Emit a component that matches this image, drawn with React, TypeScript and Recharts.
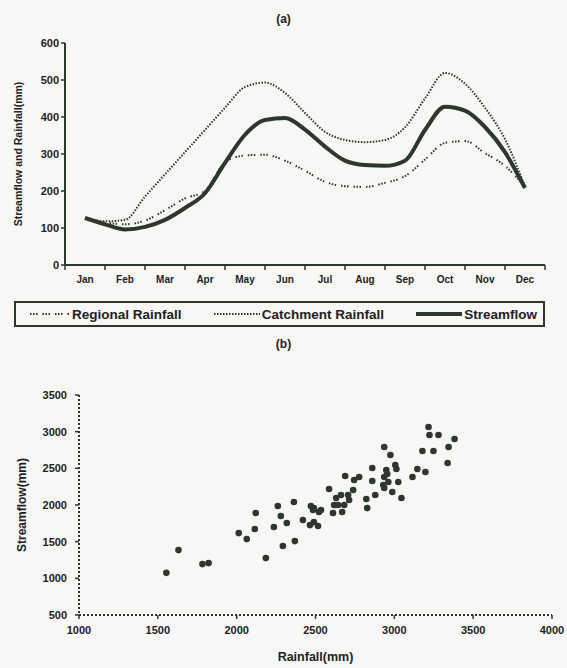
import React from 'react';
import { LineChart, Line, XAxis, YAxis, Legend, ScatterChart, Scatter } from 'recharts';

const monthLabels = ['Jan', 'Feb', 'Mar', 'Apr', 'May', 'Jun', 'Jul', 'Aug', 'Sep', 'Oct', 'Nov', 'Dec'];
const monthPos = [0, 0.5, 1, 1.5, 2, 2.5, 3, 3.5, 4, 4.5, 5, 5.5, 6, 6.5, 7, 7.5, 8, 8.5, 9, 9.5, 10, 10.5, 11];
const regionalRainfall = [125, 115, 110, 120, 148, 180, 200, 278, 296, 298, 282, 255, 225, 213, 211, 222, 240, 285, 330, 335, 302, 268, 210];
const catchmentRainfall = [127, 118, 122, 185, 245, 305, 365, 425, 481, 493, 465, 411, 360, 338, 332, 338, 372, 450, 519, 490, 425, 340, 212];
const streamflow = [127, 110, 96, 103, 122, 154, 194, 276, 352, 392, 397, 366, 320, 282, 270, 268, 282, 365, 428, 417, 373, 305, 208];
const seriesNames = ['Regional Rainfall', 'Catchment Rainfall', 'Streamflow'];
const yTicksA = [0, 100, 200, 300, 400, 500, 600];
const xTickBounds = [-0.5, 0.5, 1.5, 2.5, 3.5, 4.5, 5.5, 6.5, 7.5, 8.5, 9.5, 10.5, 11.5];

const rainfallX = [1554, 1631, 1783, 1822, 2013, 2064, 2121, 2115, 2185, 2236, 2261, 2280, 2293, 2318, 2363, 2369, 2420, 2471, 2484, 2490, 2522, 2465, 2490, 2516, 2586, 2611, 2618, 2631, 2643, 2662, 2669, 2682, 2707, 2713, 2688, 2739, 2745, 2777, 2822, 2828, 2860, 2860, 2879, 2930, 2936, 2936, 2936, 2949, 2955, 2962, 2975, 2987, 3006, 3013, 3025, 3045, 3115, 3146, 3178, 3197, 3217, 3223, 3248, 3280, 3338, 3344, 3382, 2535];
const streamflowY = [1075, 1385, 1194, 1208, 1617, 1535, 1890, 1672, 1276, 1699, 1986, 1849, 1440, 1754, 2040, 1508, 1795, 1986, 1931, 1958, 1904, 1726, 1767, 1713, 2218, 1890, 1999, 2095, 1999, 2136, 1904, 1999, 2136, 2068, 2395, 2204, 2340, 2381, 2081, 1958, 2504, 2327, 2136, 2272, 2231, 2381, 2791, 2477, 2422, 2313, 2681, 2177, 2545, 2490, 2313, 2095, 2381, 2490, 2736, 2449, 3063, 2954, 2736, 2954, 2572, 2791, 2900, 1931];
const xTicksB = [1000, 1500, 2000, 2500, 3000, 3500, 4000];
const yTicksB = [500, 1000, 1500, 2000, 2500, 3000, 3500];

const INK = '#2e372e';
const TXT = '#1e221e';
const FONT = '"Liberation Sans", Arial, Helvetica, sans-serif';

const lineData = monthPos.map((m, i) => ({
  m,
  regional: regionalRainfall[i],
  catchment: catchmentRainfall[i],
  streamflow: streamflow[i],
}));
const scatterData = rainfallX.map((x, i) => ({ x, y: streamflowY[i] }));

const MonthTick = (props: any) => {
  const { x, y, payload, width } = props;
  const idx = Math.round(payload.value + 0.5);
  const label = monthLabels[idx];
  if (!label) return <g />;
  const half = width / 24;
  return (
    <text x={x + half} y={y + 4} dy="0.71em" textAnchor="middle" fontFamily={FONT} fontWeight={700} fontSize={10} fill={TXT}>
      {label}
    </text>
  );
};

const LegendContent = (props: any) => {
  const payload = [...(props.payload || [])].sort(
    (a: any, b: any) => seriesNames.indexOf(a.value) - seriesNames.indexOf(b.value)
  );
  return (
    <div
      style={{
        boxSizing: 'border-box',
        width: 531,
        height: 26,
        border: `2px solid ${INK}`,
        display: 'flex',
        alignItems: 'center',
        justifyContent: 'space-between',
        padding: '0 6px 0 14px',
        fontFamily: FONT,
        fontWeight: 700,
        fontSize: 13.5,
        color: TXT,
      }}
    >
      {payload.map((entry: any, i: number) => {
        const p = entry.payload || {};
        const w = i === 0 ? 40 : 46;
        return (
          <div key={i} style={{ display: 'flex', alignItems: 'center' }}>
            <svg width={w} height={10} style={{ marginRight: 2 }}>
              <line x1={0} y1={5} x2={w} y2={5} stroke={INK} strokeWidth={p.strokeWidth || 2} strokeDasharray={p.strokeDasharray} />
            </svg>
            <span>{entry.value}</span>
          </div>
        );
      })}
    </div>
  );
};

const yLabelA = (props: any) => {
  const vb = props.viewBox || { x: 0, y: 43, width: 65, height: 222 };
  const cx = 18;
  const cy = vb.y + vb.height / 2;
  return (
    <text x={cx} y={cy} transform={`rotate(-90 ${cx} ${cy})`} textAnchor="middle" dominantBaseline="central" fontFamily={FONT} fontWeight={700} fontSize={10.5} fill={TXT}>
      Streamflow and Rainfall(mm)
    </text>
  );
};

const yLabelB = (props: any) => {
  const vb = props.viewBox || { x: 0, y: 35, width: 79, height: 220 };
  const cx = 22;
  const cy = vb.y + vb.height / 2;
  return (
    <text x={cx} y={cy} transform={`rotate(-90 ${cx} ${cy})`} textAnchor="middle" dominantBaseline="central" fontFamily={FONT} fontWeight={700} fontSize={12} fill={TXT}>
      Streamflow(mm)
    </text>
  );
};

const xLabelB = (props: any) => {
  const vb = props.viewBox || { x: 79, y: 255, width: 473, height: 38 };
  return (
    <text x={vb.x + vb.width / 2} y={vb.y + 42} textAnchor="middle" dominantBaseline="central" fontFamily={FONT} fontWeight={700} fontSize={12.5} fill={TXT}>
      Rainfall(mm)
    </text>
  );
};

const tickStyle = { fontFamily: FONT, fontWeight: 700, fontSize: 11, fill: TXT };

const Dot = (props: any) => <circle cx={props.cx} cy={props.cy} r={3.3} fill={INK} />;

export default function App() {
  return (
    <div style={{ position: 'absolute', left: 0, top: 0, width: 567, height: 668, background: '#f7f7f5', overflow: 'hidden' }}>
      <div style={{ position: 'absolute', top: 12, left: 0, width: 567, textAlign: 'center', fontFamily: FONT, fontWeight: 700, fontSize: 12, color: TXT }}>(a)</div>
      <div style={{ position: 'absolute', top: 0, left: 0 }}>
        <LineChart width={567} height={340} data={lineData} margin={{ top: 43, right: 22, bottom: 45, left: 0 }}>
          <XAxis
            xAxisId="main"
            dataKey="m"
            type="number"
            domain={[-0.5, 11.5]}
            ticks={xTickBounds}
            interval={0}
            allowDataOverflow
            height={30}
            tickSize={5}
            axisLine={{ stroke: INK, strokeWidth: 2 }}
            tickLine={{ stroke: INK, strokeWidth: 1.5 }}
            tick={(p: any) => <MonthTick {...p} />}
          />
          <XAxis xAxisId="top" orientation="top" type="number" domain={[-0.5, 11.5]} height={0} tick={false} tickLine={false} axisLine={{ stroke: INK, strokeWidth: 3 }} />
          <YAxis
            yAxisId="left"
            type="number"
            domain={[0, 600]}
            ticks={yTicksA}
            interval={0}
            width={65}
            tickSize={4}
            axisLine={{ stroke: INK, strokeWidth: 2 }}
            tickLine={{ stroke: INK, strokeWidth: 1.5 }}
            tick={tickStyle}
            label={{ content: yLabelA }}
          />
          <YAxis yAxisId="right" orientation="right" type="number" domain={[0, 600]} width={0} tick={false} tickLine={false} axisLine={{ stroke: INK, strokeWidth: 2 }} />
          <Line xAxisId="main" yAxisId="left" type="monotone" dataKey="regional" name="Regional Rainfall" stroke={INK} strokeWidth={2} strokeDasharray="1.5 1.5 1.5 1.5 1.5 5" dot={false} isAnimationActive={false} />
          <Line xAxisId="main" yAxisId="left" type="monotone" dataKey="catchment" name="Catchment Rainfall" stroke={INK} strokeWidth={2} strokeDasharray="1.5 1.5" dot={false} isAnimationActive={false} />
          <Line xAxisId="main" yAxisId="left" type="monotone" dataKey="streamflow" name="Streamflow" stroke={INK} strokeWidth={4} dot={false} isAnimationActive={false} />
          <Legend layout="horizontal" verticalAlign="middle" align="center" wrapperStyle={{ top: 301, left: 14, width: 531, height: 26 }} content={(p: any) => <LegendContent {...p} />} />
        </LineChart>
      </div>
      <div style={{ position: 'absolute', top: 337, left: 0, width: 567, textAlign: 'center', fontFamily: FONT, fontWeight: 700, fontSize: 12, color: TXT }}>(b)</div>
      <div style={{ position: 'absolute', top: 360, left: 0 }}>
        <ScatterChart width={567} height={308} margin={{ top: 35, right: 15, bottom: 15, left: 0 }}>
          <XAxis
            dataKey="x"
            type="number"
            domain={[1000, 4000]}
            ticks={xTicksB}
            interval={0}
            height={38}
            tickSize={4}
            tickMargin={7}
            axisLine={{ stroke: INK, strokeWidth: 2, strokeDasharray: '2 2' }}
            tickLine={{ stroke: INK, strokeWidth: 1.5 }}
            tick={tickStyle}
            label={{ content: xLabelB }}
          />
          <YAxis
            yAxisId="left"
            dataKey="y"
            type="number"
            domain={[500, 3500]}
            ticks={yTicksB}
            interval={0}
            width={79}
            tickSize={4}
            tickMargin={8}
            axisLine={{ stroke: INK, strokeWidth: 2, strokeDasharray: '2 2' }}
            tickLine={{ stroke: INK, strokeWidth: 1.5 }}
            tick={tickStyle}
            label={{ content: yLabelB }}
          />
          <YAxis yAxisId="right" orientation="right" type="number" domain={[500, 3500]} width={0} tick={false} tickLine={false} axisLine={{ stroke: INK, strokeWidth: 2, strokeDasharray: '2 2' }} />
          <Scatter yAxisId="left" data={scatterData} fill={INK} shape={(p: any) => <Dot {...p} />} isAnimationActive={false} />
        </ScatterChart>
      </div>
    </div>
  );
}
